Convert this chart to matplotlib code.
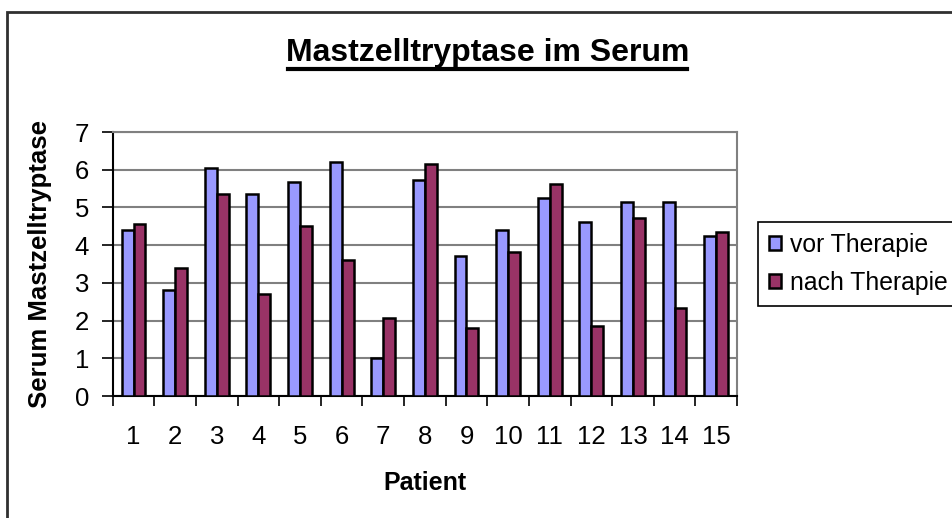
import matplotlib.pyplot as plt
import numpy as np
from matplotlib.lines import Line2D
from matplotlib.patches import Rectangle

plt.rcParams['font.family'] = ['Liberation Sans', 'DejaVu Sans']

patients = [str(i) for i in range(1, 16)]
vor = [4.41, 2.81, 6.04, 5.35, 5.67, 6.20, 1.01, 5.73, 3.71, 4.41, 5.25, 4.62, 5.15, 5.15, 4.25]
nach = [4.56, 3.40, 5.35, 2.71, 4.50, 3.60, 2.06, 6.16, 1.81, 3.81, 5.63, 1.85, 4.72, 2.33, 4.35]

W, H = 953, 518
fig = plt.figure(figsize=(W / 100, H / 100), dpi=100)

# outer chart frame (runs off the right and bottom edge)
fig.add_artist(Rectangle((6.5 / W, -0.1), 1.2, 1 - 12 / H + 0.1, transform=fig.transFigure,
                         fill=False, edgecolor='#303030', linewidth=2))

ax = fig.add_axes([112.7 / W, 1 - 396 / H, (737 - 112.7) / W, (396 - 132) / H])

x = np.arange(1, 16)
w = 1 / 3.5
ax.bar(x - w / 2, vor, w, color='#9999FF', edgecolor='black', linewidth=1.8, label='vor Therapie', zorder=3)
ax.bar(x + w / 2, nach, w, color='#993366', edgecolor='black', linewidth=1.8, label='nach Therapie', zorder=3)

ax.set_xlim(0.5, 15.5)
ax.set_ylim(0, 7)
ax.set_yticks(range(8))
ax.set_xticks(x)
ax.set_xticklabels(patients)
ax.set_xticks(np.arange(0.5, 16), minor=True)
ax.tick_params(axis='x', which='major', length=0, pad=21, labelsize=18.5)
ax.tick_params(axis='x', which='minor', length=7, width=1.2, direction='out')
ax.tick_params(axis='y', length=8, width=1.2, direction='out', pad=9, labelsize=18.5)
ax.grid(axis='y', color='#808080', linewidth=1.5, zorder=0)

for s in ['top', 'right']:
    ax.spines[s].set_color('#808080')
    ax.spines[s].set_linewidth(1.5)
for s in ['left', 'bottom']:
    ax.spines[s].set_linewidth(1.5)

ax.set_xlabel('Patient', fontsize=18, fontweight='bold', labelpad=16)
ax.set_ylabel('Serum Mastzelltryptase', fontsize=18.5, fontweight='bold', labelpad=16)

# title with underline
fig.text(487.5 / W, 1 - 61 / H, 'Mastzelltryptase im Serum', fontsize=23, fontweight='bold',
         ha='center', va='baseline')
fig.add_artist(Line2D([288 / W, 687 / W], [1 - 68.5 / H, 1 - 68.5 / H], color='black', linewidth=3))

leg = fig.legend(loc='upper left', bbox_to_anchor=(758 / W, 1 - 222 / H), fontsize=17.8,
                 frameon=True, fancybox=False, edgecolor='black', framealpha=1,
                 handlelength=0.5, handleheight=0.5, handletextpad=0.35,
                 borderpad=0.45, labelspacing=0.55, borderaxespad=0)
leg.get_frame().set_linewidth(1.2)

fig.savefig('out.png', dpi=100)
